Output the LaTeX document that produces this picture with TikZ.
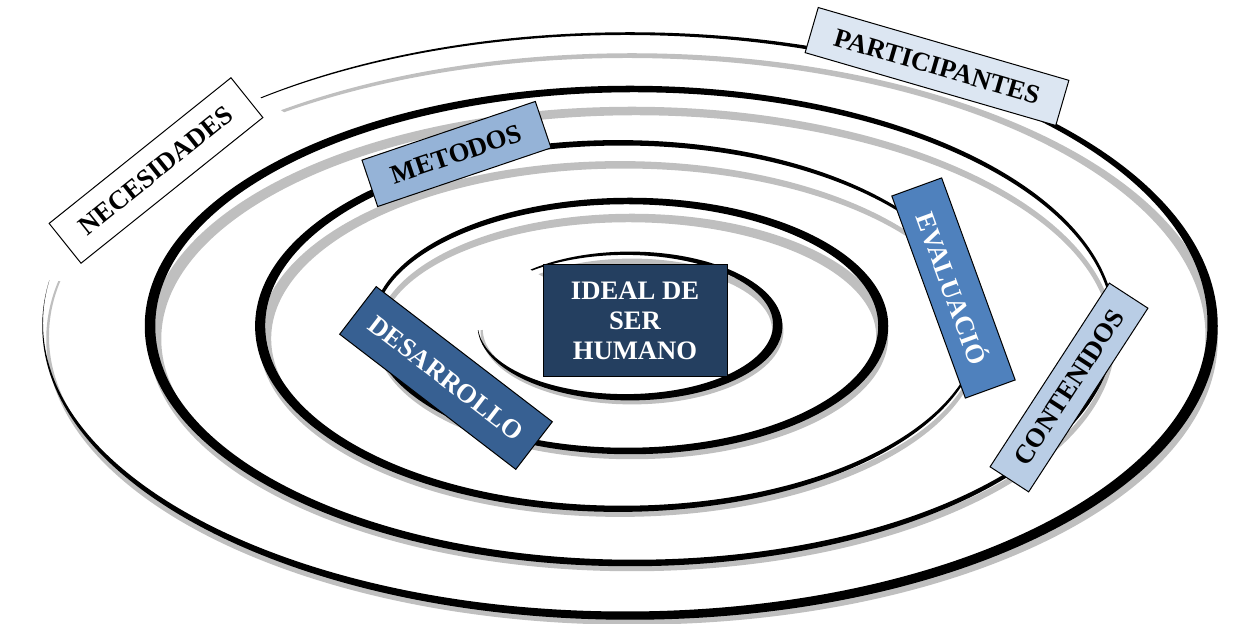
\documentclass[tikz,border=0pt]{standalone}
\usepackage{fontspec}
\setmainfont{Liberation Serif}
\definecolor{navy}{HTML}{243F60}
\definecolor{midblue}{HTML}{376092}
\definecolor{stdblue}{HTML}{4F81BD}
\definecolor{skyblue}{HTML}{95B3D7}
\definecolor{paleblue}{HTML}{B9CDE5}
\definecolor{iceblue}{HTML}{DCE6F2}
\begin{document}
\begin{tikzpicture}[x=0.75pt,y=0.75pt,
  shade/.style={fill=black!25,even odd rule},
  ring/.style={fill=black,even odd rule},
  tag/.style={draw,line width=0.75pt,inner sep=0pt,font=\bfseries\fontsize{20}{22.5}\selectfont}]
\useasboundingbox (0,0) rectangle (1233,624);
% outer turn, open at the upper left
\begin{scope}
\clip (630,298) -- (-540,390) -- (-540,-100) -- (1400,-100) -- (1400,800) -- (-140,774) -- cycle;
\fill[shade] (632,285) ellipse [x radius=585.75, y radius=285.75] (627.24,287.75) ellipse [x radius=578.25, y radius=278.25];
\fill[ring] (630,298) ellipse [x radius=587.75, y radius=293.75] (625.24,300.75) ellipse [x radius=582.25, y radius=288.25];
\end{scope}
% middle turns
\fill[shade] (632,285) ellipse [x radius=483.25, y radius=232.25] (636,285) ellipse [x radius=474.75, y radius=223.75];
\fill[ring] (630,298) ellipse [x radius=485.25, y radius=240.25] (634,298) ellipse [x radius=478.75, y radius=233.75];
\fill[shade] (620,285) ellipse [x radius=360.9, y radius=177.9] (624.28,285.37) ellipse [x radius=353.1, y radius=170.1];
\fill[ring] (618,298) ellipse [x radius=362.9, y radius=185.9] (622.28,298.37) ellipse [x radius=357.1, y radius=180.1];
\fill[shade] (632,287.5) ellipse [x radius=256.25, y radius=122.75] (628.5,287.5) ellipse [x radius=247.75, y radius=114.25];
\fill[ring] (630,298) ellipse [x radius=258.25, y radius=128.25] (626.5,298) ellipse [x radius=251.75, y radius=121.75];
% inner turn, open at the left
\begin{scope}
\clip (630,298) -- (-105,278) -- (-105,-10) -- (1300,-10) -- (1300,640) -- (90,604) -- cycle;
\fill[shade] (632,292.5) ellipse [x radius=151.4, y radius=72.9] (627.44,293.98) ellipse [x radius=144.6, y radius=66.1];
\fill[ring] (630,298) ellipse [x radius=152.4, y radius=74.4] (625.44,299.48) ellipse [x radius=147.6, y radius=69.6];
\end{scope}
% labels
\node[tag,fill=white,minimum width=174.75pt,minimum height=38.25pt,rotate=38.7] (necesidades) at (156,453.5) {NECESIDADES};
\node[tag,fill=skyblue,minimum width=137.25pt,minimum height=36.75pt,rotate=18.7] (metodos) at (456.5,470) {METODOS};
\node[tag,fill=iceblue,minimum width=195.75pt,minimum height=35.25pt,rotate=-16.2] (participantes) at (937,557.5) {PARTICIPANTES};
\node[tag,fill=stdblue,text=white,minimum width=161.25pt,minimum height=39.75pt,rotate=-70] (evaluacion) at (953.5,336) {EVALUACIÓ};
\node[tag,fill=paleblue,minimum width=164.25pt,minimum height=34.5pt,rotate=57] (contenidos) at (1069,236.5) {CONTENIDOS};
\node[tag,fill=midblue,text=white,minimum width=166.5pt,minimum height=45pt,rotate=-37.5] (desarrollo) at (446,246) {DESARROLLO};
\node[tag,fill=navy,text=white,minimum width=138pt,minimum height=84pt,align=center] (ideal) at (635,303) {IDEAL DE\\SER\\HUMANO};
\end{tikzpicture}
\end{document}
